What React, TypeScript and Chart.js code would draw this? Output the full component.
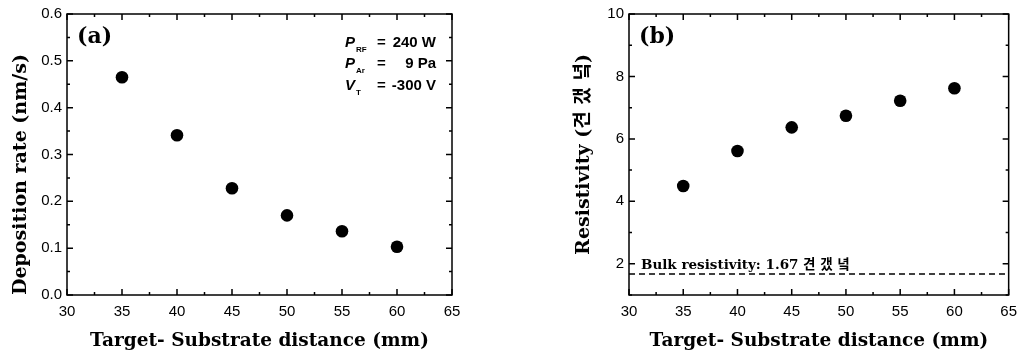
import React, { useEffect, useRef } from "react";
import { Chart, registerables } from "chart.js";

Chart.register(...registerables);

// ---- data ----
const distances = [35, 40, 45, 50, 55, 60];
const depositionRate = [0.465, 0.341, 0.228, 0.17, 0.136, 0.103];
const resistivity = [4.49, 5.61, 6.37, 6.74, 7.22, 7.62];
const bulkResistivity = 1.67;
const xMin = 30;
const xMax = 65;
const xTicks = [30, 35, 40, 45, 50, 55, 60, 65];
const rateTicks = [0, 0.1, 0.2, 0.3, 0.4, 0.5, 0.6];
const resTicks = [2, 4, 6, 8, 10];
const resMin = 1;
const resMax = 10;

const xTitle = "Target- Substrate distance (mm)";
const rateTitle = "Deposition rate (nm/s)";
const resTitle = "Resistivity (견 갰 녘)";
const bulkLabel = "Bulk resistivity: 1.67 견 갰 녘";
const conditionSymbols = ["P", "P", "V"];
const conditionSubs = ["RF", "Ar", "T"];
const conditionValues = ["240 W", "9 Pa", "-300 V"];

const SERIF = '"DejaVu Serif", "Noto Sans CJK KR", serif';
const SANS = '"Liberation Sans", Arial, sans-serif';

const tickFont = { family: SANS, size: 15 };
const titleFont = { family: SERIF, size: 18.5, weight: "bold" as const };

function midpoints(arr: number[]) {
  const out: number[] = [];
  for (let i = 0; i < arr.length - 1; i++) out.push((arr[i] + arr[i + 1]) / 2);
  return out;
}

const framePlugin = {
  id: "frameTicks",
  afterDatasetsDraw(chart: any) {
    const { ctx, chartArea } = chart;
    const xs = chart.scales.x;
    const ys = chart.scales.y;
    const xMaj = xs.ticks.map((t: any) => t.value);
    const yMaj = ys.ticks.map((t: any) => t.value);
    const xMin2 = midpoints(xMaj);
    const yMin2 = midpoints(yMaj);
    if (ys.min < yMaj[0]) yMin2.unshift(yMaj[0] - (yMaj[1] - yMaj[0]) / 2);
    ctx.save();
    ctx.strokeStyle = "#000";
    ctx.lineWidth = 1.5;
    ctx.strokeRect(chartArea.left, chartArea.top, chartArea.right - chartArea.left, chartArea.bottom - chartArea.top);
    const drawX = (vals: number[], len: number) => {
      vals.forEach((v) => {
        const p = xs.getPixelForValue(v);
        ctx.beginPath();
        ctx.moveTo(p, chartArea.bottom);
        ctx.lineTo(p, chartArea.bottom - len);
        ctx.moveTo(p, chartArea.top);
        ctx.lineTo(p, chartArea.top + len);
        ctx.stroke();
      });
    };
    const drawY = (vals: number[], len: number) => {
      vals.forEach((v) => {
        const p = ys.getPixelForValue(v);
        ctx.beginPath();
        ctx.moveTo(chartArea.left, p);
        ctx.lineTo(chartArea.left + len, p);
        ctx.moveTo(chartArea.right, p);
        ctx.lineTo(chartArea.right - len, p);
        ctx.stroke();
      });
    };
    drawX(xMaj, 6);
    drawX(xMin2, 3);
    drawY(yMaj, 6);
    drawY(yMin2, 3);
    ctx.restore();
  },
};

function panelLabel(text: string) {
  return {
    id: "panelLabel" + text,
    afterDraw(chart: any) {
      const { ctx, chartArea } = chart;
      ctx.save();
      ctx.fillStyle = "#000";
      ctx.font = `bold 22px ${SERIF}`;
      ctx.textBaseline = "alphabetic";
      ctx.textAlign = "left";
      ctx.fillText(text, chartArea.left + 10, chartArea.top + 29);
      ctx.restore();
    },
  };
}

const conditionsPlugin = {
  id: "conditions",
  afterDraw(chart: any) {
    const { ctx, chartArea } = chart;
    ctx.save();
    ctx.fillStyle = "#000";
    conditionSymbols.forEach((sym, i) => {
      const base = chartArea.top + 33 + i * 21.3;
      const x0 = chartArea.right - 107;
      ctx.textAlign = "left";
      ctx.textBaseline = "alphabetic";
      ctx.font = `italic bold 15px ${SANS}`;
      ctx.fillText(sym, x0, base);
      ctx.font = `bold 8px ${SANS}`;
      ctx.fillText(conditionSubs[i], x0 + 11, base + 5);
      ctx.font = `bold 15px ${SANS}`;
      ctx.fillText("=", x0 + 32, base);
      ctx.textAlign = "right";
      ctx.fillText(conditionValues[i], chartArea.right - 16, base);
    });
    ctx.restore();
  },
};

const bulkPlugin = {
  id: "bulkLabel",
  afterDraw(chart: any) {
    const { ctx, chartArea } = chart;
    const y = chart.scales.y.getPixelForValue(bulkResistivity);
    ctx.save();
    ctx.fillStyle = "#000";
    ctx.font = `bold 13.5px ${SERIF}`;
    ctx.textAlign = "left";
    ctx.textBaseline = "alphabetic";
    ctx.fillText(bulkLabel, chartArea.left + 12, y - 5);
    ctx.restore();
  },
};

function fixedTicks(values: number[]) {
  return (s: any) => {
    s.ticks = values.map((v) => ({ value: v }));
  };
}

function makeConfig(opts: {
  points: { x: number; y: number }[];
  extra?: any[];
  yMin: number;
  yMax: number;
  yTicks: number[];
  yDigits: number;
  yTitle: string;
  yTitleAlign: "start" | "center";
  yTitlePad: number;
  padRight: number;
  padTop: number;
  yWidth: number;
  plugins: any[];
}) {
  return {
    type: "scatter" as const,
    data: {
      datasets: [
        {
          data: opts.points,
          backgroundColor: "#000",
          borderColor: "#000",
          borderWidth: 0,
          pointRadius: 6.3,
          showLine: false,
        },
        ...(opts.extra || []),
      ],
    },
    options: {
      responsive: false,
      animation: false as const,
      layout: { padding: { left: 0, right: opts.padRight, top: opts.padTop, bottom: 0 } },
      plugins: { legend: { display: false }, tooltip: { enabled: false } },
      scales: {
        x: {
          type: "linear" as const,
          min: xMin,
          max: xMax,
          afterBuildTicks: fixedTicks(xTicks),
          ticks: { color: "#000", font: tickFont, padding: 8, maxRotation: 0 },
          grid: { display: false, drawTicks: false },
          border: { display: false },
          title: {
            display: true,
            text: xTitle,
            color: "#000",
            font: titleFont,
            padding: { top: 0, bottom: 5 },
          },
          afterFit: (s: any) => {
            s.height = 357 - 295;
          },
        },
        y: {
          type: "linear" as const,
          min: opts.yMin,
          max: opts.yMax,
          afterBuildTicks: fixedTicks(opts.yTicks),
          ticks: {
            color: "#000",
            font: tickFont,
            padding: 5,
            callback: (v: any) => Number(v).toFixed(opts.yDigits),
          },
          grid: { display: false, drawTicks: false },
          border: { display: false },
          title: {
            display: true,
            text: opts.yTitle,
            color: "#000",
            font: { ...titleFont, size: 19 },
            align: opts.yTitleAlign,
            padding: { top: opts.yTitlePad, bottom: 0 },
          },
          afterFit: (s: any) => {
            s.width = opts.yWidth;
          },
        },
      },
    },
    plugins: [framePlugin, ...opts.plugins],
  };
}

function Panel({ left, width, config }: { left: number; width: number; config: any }) {
  const ref = useRef<HTMLCanvasElement | null>(null);
  useEffect(() => {
    if (!ref.current) return;
    const chart = new Chart(ref.current, config);
    return () => chart.destroy();
  }, []);
  return (
    <div style={{ position: "absolute", left, top: 0, width, height: 357 }}>
      <canvas ref={ref} width={width} height={357} style={{ width, height: 357, display: "block" }} />
    </div>
  );
}

export default function App() {
  const configA = makeConfig({
    points: distances.map((d, i) => ({ x: d, y: depositionRate[i] })),
    yMin: 0,
    yMax: 0.6,
    yTicks: rateTicks,
    yDigits: 1,
    yTitle: rateTitle,
    yTitleAlign: "start",
    yTitlePad: 10,
    padRight: 512 - 452,
    padTop: 12,
    yWidth: 67,
    plugins: [panelLabel("(a)"), conditionsPlugin],
  });
  const configB = makeConfig({
    points: distances.map((d, i) => ({ x: d, y: resistivity[i] })),
    extra: [
      {
        data: [
          { x: xMin, y: bulkResistivity },
          { x: xMax, y: bulkResistivity },
        ],
        showLine: true,
        pointRadius: 0,
        borderColor: "#000",
        borderWidth: 1.5,
        borderDash: [6, 4],
      },
    ],
    yMin: resMin,
    yMax: resMax,
    yTicks: resTicks,
    yDigits: 0,
    yTitle: resTitle,
    yTitleAlign: "center",
    yTitlePad: 61,
    padRight: 1025 - 1015,
    padTop: 10,
    yWidth: 629 - 512,
    plugins: [panelLabel("(b)"), bulkPlugin],
  });
  return (
    <div style={{ position: "absolute", left: 0, top: 0, width: 1025, height: 357, background: "#fff" }}>
      <Panel left={0} width={512} config={configA} />
      <Panel left={512} width={513} config={configB} />
    </div>
  );
}
